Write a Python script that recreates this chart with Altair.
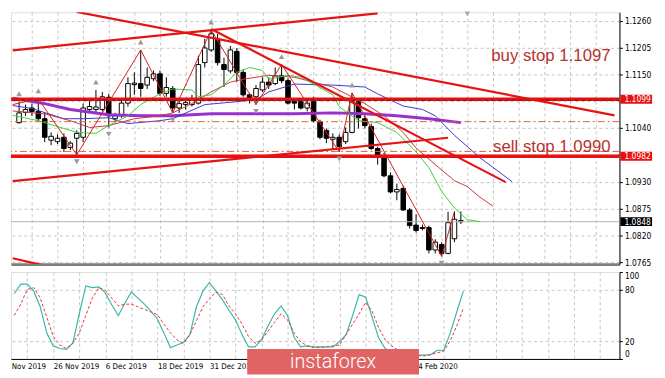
import altair as alt
import pandas as pd

# ---------------- data ----------------
bar_idx = list(range(1, 71))
opens = [1.1051, 1.1072, 1.1081, 1.1074, 1.1059, 1.1015, 1.1012, 1.1021, 1.1000, 1.1019,
         1.1021, 1.1078, 1.1078, 1.1078, 1.1103, 1.1059, 1.1065, 1.1091, 1.1129, 1.1131,
         1.1128, 1.1141, 1.1151, 1.1111, 1.1121, 1.1081, 1.1088, 1.1088, 1.1091, 1.1174,
         1.1200, 1.1223, 1.1170, 1.1157, 1.1197, 1.1154, 1.1108, 1.1104, 1.1118, 1.1134,
         1.1131, 1.1147, 1.1137, 1.1094, 1.1094, 1.1081, 1.1094, 1.1053, 1.1035, 1.1017,
         1.1021, 1.1012, 1.1031, 1.1094, 1.1059, 1.1043, 1.0998, 1.0982, 1.0942, 1.0909,
         1.0916, 1.0872, 1.0841, 1.0836, 1.0836, 1.0790, 1.0801, 1.0783, 1.0813, 1.0850]
highs = [1.1094, 1.1088, 1.1090, 1.1100, 1.1071, 1.1031, 1.1027, 1.1029, 1.1013, 1.1035,
         1.1090, 1.1100, 1.1118, 1.1114, 1.1110, 1.1071, 1.1096, 1.1144, 1.1154, 1.1200,
         1.1164, 1.1158, 1.1158, 1.1144, 1.1126, 1.1098, 1.1100, 1.1108, 1.1188, 1.1223,
         1.1241, 1.1233, 1.1184, 1.1208, 1.1204, 1.1160, 1.1112, 1.1128, 1.1144, 1.1144,
         1.1164, 1.1170, 1.1142, 1.1100, 1.1100, 1.1100, 1.1104, 1.1057, 1.1039, 1.1029,
         1.1027, 1.1041, 1.1112, 1.1101, 1.1065, 1.1049, 1.1002, 1.0989, 1.0949, 1.0926,
         1.0922, 1.0876, 1.0863, 1.0842, 1.0840, 1.0812, 1.0806, 1.0868, 1.0869, 1.0869]
lows = [1.1049, 1.1065, 1.1065, 1.1053, 1.1011, 1.1005, 1.1007, 1.0991, 1.0995, 1.0985,
        1.1011, 1.1074, 1.1071, 1.1074, 1.1041, 1.1053, 1.1061, 1.1084, 1.1108, 1.1104,
        1.1120, 1.1136, 1.1106, 1.1104, 1.1071, 1.1071, 1.1078, 1.1084, 1.1088, 1.1164,
        1.1196, 1.1168, 1.1124, 1.1152, 1.1134, 1.1104, 1.1090, 1.1088, 1.1114, 1.1120,
        1.1128, 1.1132, 1.1088, 1.1078, 1.1078, 1.1074, 1.1051, 1.1017, 1.1009, 1.0995,
        1.0991, 1.1007, 1.1029, 1.1039, 1.1039, 1.0995, 1.0965, 1.0939, 1.0906, 1.0892,
        1.0870, 1.0834, 1.0826, 1.0830, 1.0783, 1.0783, 1.0777, 1.0781, 1.0806, 1.0843]
closes = [1.1071, 1.1078, 1.1074, 1.1059, 1.1021, 1.1023, 1.1019, 1.0998, 1.1009, 1.1029,
          1.1081, 1.1084, 1.1083, 1.1104, 1.1065, 1.1065, 1.1091, 1.1131, 1.1132, 1.1121,
          1.1144, 1.1151, 1.1111, 1.1123, 1.1081, 1.1090, 1.1092, 1.1099, 1.1170, 1.1204,
          1.1233, 1.1174, 1.1160, 1.1200, 1.1154, 1.1108, 1.1098, 1.1121, 1.1134, 1.1128,
          1.1147, 1.1137, 1.1091, 1.1091, 1.1081, 1.1091, 1.1055, 1.1021, 1.1019, 1.1021,
          1.1002, 1.1031, 1.1094, 1.1061, 1.1045, 1.0998, 1.0982, 1.0942, 1.0909, 1.0914,
          1.0872, 1.0840, 1.0830, 1.0834, 1.0790, 1.0806, 1.0783, 1.0846, 1.0853, 1.0848]

jaw_idx = [0, 3, 8, 11, 15, 18, 23, 25, 30, 35, 38, 40, 44, 50, 55, 57, 61, 64, 66, 69, 73, 78]
jaw_val = [1.1086, 1.1080, 1.1059, 1.1059, 1.1061, 1.1049, 1.1055, 1.1059, 1.1088, 1.1094,
           1.1098, 1.1114, 1.1130, 1.1128, 1.1124, 1.1110, 1.1085, 1.1078, 1.1065, 1.1025,
           1.0979, 1.0930]
teeth_idx = [0, 5, 9, 12, 15, 19, 23, 25, 28, 31, 34, 36, 40, 44, 47, 50, 55, 58, 61, 63,
             66, 69, 71, 73, 75]
teeth_val = [1.1075, 1.1069, 1.1055, 1.1041, 1.1045, 1.1059, 1.1065, 1.1071, 1.1090, 1.1114,
             1.1134, 1.1140, 1.1148, 1.1144, 1.1134, 1.1124, 1.1090, 1.1065, 1.1031, 1.0999,
             1.0965, 1.0932, 1.0920, 1.0898, 1.0880]
lips_idx = [0, 4, 8, 10, 13, 15, 18, 20, 23, 25, 28, 29, 31, 33, 35, 37, 39, 40, 43, 45,
            47, 50, 51, 54, 57, 60, 63, 65, 67, 69, 71, 73]
lips_val = [1.1066, 1.1055, 1.1039, 1.1031, 1.1029, 1.1045, 1.1065, 1.1088, 1.1110, 1.1120,
            1.1118, 1.1104, 1.1108, 1.1128, 1.1154, 1.1164, 1.1158, 1.1140, 1.1148, 1.1144,
            1.1130, 1.1108, 1.1084, 1.1055, 1.1051, 1.1031, 1.0991, 1.0959, 1.0910, 1.0876,
            1.0852, 1.0848]
slow_idx = [0, 5, 9, 15, 20, 25, 31, 38, 44, 50, 55, 60, 65, 70]
slow_val = [1.1101, 1.1090, 1.1078, 1.1067, 1.1065, 1.1065, 1.1069, 1.1069, 1.1069, 1.1071,
            1.1069, 1.1065, 1.1059, 1.1051]
zz_idx = [0, 4, 10, 20, 25, 31, 38, 42, 51, 53, 67, 69]
zz_val = [1.1088, 1.1100, 1.0985, 1.1200, 1.1071, 1.1241, 1.1088, 1.1170, 1.0991, 1.1112,
          1.0777, 1.0869]
frac_up_idx = [1, 4, 13, 20, 31, 42, 53]
frac_dn_idx = [10, 15, 25, 38, 51, 67]
shift_idx = [71]
shift_val = [1.1274]

trend_i0 = [0, 10, 31, 0, 0]
trend_p0 = [1.1199, 1.1278, 1.1243, 1.0931, 1.0773]
trend_i1 = [57, 94, 77, 68, 5]
trend_p1 = [1.1275, 1.1066, 1.0929, 1.1020, 1.0758]

level_solid = [1.1099, 1.0982]
level_order = [1.1097]
level_dashed = [1.1053, 1.0992]
last_price = [1.0848]

note_text = ["buy stop 1.1097", "sell stop 1.0990"]
note_idx = [93.4, 93.4]
note_val = [1.1178, 1.0991]

tag_red = [1.1099, 1.0982]
tag_black = [1.0848]

price_ticks = [1.0765, 1.0820, 1.0875, 1.0930, 1.0985, 1.1040, 1.1095, 1.1150, 1.1205, 1.1260]
price_hidden = [1.0985, 1.1095]

stoch_k = [75, 86, 86, 78, 60, 30, 15, 12, 11, 18,
           52, 84, 82, 83, 76, 62, 50, 64, 77, 70,
           63, 55, 46, 30, 13, 16, 19, 28, 60, 78,
           88, 78, 68, 56, 45, 28, 14, 14, 22, 38,
           52, 61, 50, 25, 14, 15, 14, 14, 14, 14,
           20, 28, 50, 74, 71, 48, 24, 12, 8, 6,
           5, 5, 4.5, 4.5, 5, 10, 10, 30, 54, 78]
stoch_d = [50, 63, 80, 82, 70, 48, 26, 16, 12, 18,
           30, 50, 70, 82, 79, 70, 61, 63, 63, 60,
           57, 54, 51, 40, 30, 22, 18, 28, 44, 60,
           69, 77, 74, 61, 52, 40, 26, 18, 22, 32,
           42, 52, 45, 30, 20, 15, 13, 13, 14, 15,
           16, 28, 40, 52, 65, 55, 36, 22, 15, 10,
           7, 5, 4, 3.5, 5, 7, 9, 21, 38, 58]
stoch_ticks = [0, 20, 80, 100]

date_idx = [0.55, 7, 15, 23, 31, 63]
date_text = ["Nov 2019", "26 Nov 2019", "6 Dec 2019", "18 Dec 2019", "31 Dec 2019",
             "4 Feb 2020"]
grid_idx = list(range(3, 92, 4))

banner_text = ["instaforex"]
banner_i = [36.8]
banner_i2 = [63.2]
banner_v = [-18]
banner_v2 = [11.5]
banner_text_i = [50]
banner_text_v = [-4]

# ---------------- layout ----------------
W = 616
H1 = 255
H2 = 88
FONT = "DejaVu Sans Condensed, DejaVu Sans, sans-serif"

xs = alt.Scale(domain=[0.5, 94], nice=False, zero=False)
ys = alt.Scale(domain=[1.0761, 1.12773], nice=False, zero=False)
ss = alt.Scale(domain=[0, 100], nice=False, zero=False)

ax_main_x = alt.Axis(values=grid_idx, labels=False, ticks=False, grid=True,
                     gridColor="#c4c4c4", gridDash=[3, 3], domainColor="#7f7f7f",
                     domainWidth=3, title=None)

hide_test = " || ".join(f"abs(datum.value - {v}) < 0.00001" for v in price_hidden)
ax_price = alt.Axis(orient="right", values=price_ticks,
                    labelExpr=f"({hide_test}) ? '' : format(datum.value, '.4f')",
                    tickSize=3, tickColor="#000", domainColor="#000", labelFontSize=8.5,
                    labelPadding=2, labelFont=FONT, labelColor="#000", grid=True,
                    gridColor="#c4c4c4", gridDash=[3, 3], labelOverlap=False, title=None)

expr = "''"
for k, t in reversed(list(zip(date_idx, date_text))):
    if k < 1:
        expr = f"(datum.value < 1 ? '{t}' : {expr})"
    else:
        expr = f"(datum.value == {k} ? '{t}' : {expr})"
ax_date = alt.Axis(values=sorted(set(grid_idx + date_idx)), labelExpr=expr, ticks=False,
                   grid=True, gridColor="#c4c4c4", gridDash=[3, 3],
                   gridOpacity={"condition": {"test": "datum.value < 1", "value": 0}, "value": 1},
                   domainColor="#000", labelFont=FONT, labelFontSize=8, labelColor="#000",
                   labelAlign="left", labelPadding=4, labelOverlap=False, labelBound=False,
                   labelFlush=False, title=None)
ax_stoch = alt.Axis(orient="right", values=stoch_ticks, tickSize=3, tickColor="#000",
                    domainColor="#000", labelFontSize=8.5, labelPadding=2, labelFont=FONT,
                    labelColor="#000", labelFlush=True, grid=True, gridColor="#c4c4c4",
                    gridDash=[3, 3],
                    gridOpacity={"condition": {"test": "datum.value == 0 || datum.value == 100",
                                               "value": 0}, "value": 1},
                    labelOverlap=False, title=None)


def X(f):
    return alt.X(f"{f}:Q", scale=xs, axis=ax_main_x, title=None)


def Y(f):
    return alt.Y(f"{f}:Q", scale=ys, axis=ax_price, title=None)


candles = pd.DataFrame({"i": bar_idx, "o": opens, "h": highs, "l": lows, "c": closes})


def series(ix, vals):
    return pd.DataFrame({"i": ix, "p": vals})


wicks = alt.Chart(candles).mark_rule(color="#000", strokeWidth=1).encode(
    x=X("i"), y=Y("l"), y2="h")
bodies = alt.Chart(candles).mark_bar(width=4.6, stroke="#000", strokeWidth=1).encode(
    x=X("i"), y=Y("o"), y2="c",
    fill=alt.condition("datum.c > datum.o", alt.value("#ffffff"), alt.value("#000000")))

last_line = alt.Chart(series([0], last_price)).mark_rule(color="#b4b4b4", strokeWidth=1).encode(
    y=Y("p"))

slow = alt.Chart(series(slow_idx, slow_val)).mark_line(
    color="#9a2fd0", strokeWidth=3, clip=True).encode(x=X("i"), y=Y("p"))
jaw = alt.Chart(series(jaw_idx, jaw_val)).mark_line(
    color="#3a3acc", strokeWidth=1, clip=True).encode(x=X("i"), y=Y("p"))
teeth = alt.Chart(series(teeth_idx, teeth_val)).mark_line(
    color="#c83a3a", strokeWidth=1, clip=True).encode(x=X("i"), y=Y("p"))
lips = alt.Chart(series(lips_idx, lips_val)).mark_line(
    color="#3ccf3c", strokeWidth=1, clip=True).encode(x=X("i"), y=Y("p"))
zigzag = alt.Chart(series(zz_idx, zz_val)).mark_line(
    color="#d42020", strokeWidth=1, clip=True).encode(x=X("i"), y=Y("p"))

hi_map = dict(zip(bar_idx, highs))
lo_map = dict(zip(bar_idx, lows))
frac_up = alt.Chart(series(frac_up_idx, [hi_map[k] for k in frac_up_idx])).mark_point(
    shape="triangle-up", filled=True, color="#9a9a9a", size=32, yOffset=-8, opacity=1).encode(
    x=X("i"), y=Y("p"))
frac_dn = alt.Chart(series(frac_dn_idx, [lo_map[k] for k in frac_dn_idx])).mark_point(
    shape="triangle-down", filled=True, color="#9a9a9a", size=32, yOffset=7, opacity=1).encode(
    x=X("i"), y=Y("p"))
shift = alt.Chart(series(shift_idx, shift_val)).mark_point(
    shape="triangle-down", filled=True, color="#a8a8a8", size=30, opacity=1).encode(
    x=X("i"), y=Y("p"))

lev_dash = alt.Chart(series([0, 0], level_dashed)).mark_rule(
    color="#e0603a", strokeWidth=1, strokeDash=[7, 3, 2, 3]).encode(y=Y("p"))
lev_solid = alt.Chart(series([0, 0], level_solid)).mark_rule(
    color="#e81010", strokeWidth=3.5).encode(y=Y("p"))
lev_order = alt.Chart(series([0], level_order)).mark_rule(
    color="#8a1010", strokeWidth=1, strokeDash=[4, 3]).encode(y=Y("p"))

trends = alt.Chart(pd.DataFrame({"i": trend_i0, "p": trend_p0, "i2": trend_i1,
                                 "p2": trend_p1})).mark_rule(
    color="#e41414", strokeWidth=2.2, clip=True).encode(x=X("i"), x2="i2", y=Y("p"), y2="p2")

notes = alt.Chart(pd.DataFrame({"i": note_idx, "p": note_val, "t": note_text})).mark_text(
    align="right", baseline="alphabetic", font="Liberation Sans, Arial, sans-serif",
    fontSize=17, color="#b5322d").encode(x=X("i"), y=Y("p"), text="t:N")

tag_df_r = pd.DataFrame({"p": tag_red, "t": [f"{v:.4f}" for v in tag_red]})
tag_df_b = pd.DataFrame({"p": tag_black, "t": [f"{v:.4f}" for v in tag_black]})
tag_box_r = alt.Chart(tag_df_r).mark_rule(color="#e81010", strokeWidth=9, strokeCap="butt").encode(
    x=alt.value(W + 1), x2=alt.value(W + 33), y=Y("p"))
tag_box_b = alt.Chart(tag_df_b).mark_rule(color="#000000", strokeWidth=9, strokeCap="butt").encode(
    x=alt.value(W + 1), x2=alt.value(W + 33), y=Y("p"))
tag_txt = alt.Chart(pd.concat([tag_df_r, tag_df_b])).mark_text(
    align="left", baseline="middle", font=FONT, fontSize=8.5, color="#ffffff").encode(
    x=alt.value(W + 5), y=Y("p"), text="t:N")

main = alt.layer(
    wicks, bodies, last_line, slow, jaw, teeth, lips, lev_dash, lev_solid, lev_order,
    trends, zigzag, frac_up, frac_dn, shift, notes, tag_box_r, tag_box_b, tag_txt
).properties(width=W, height=H1)

# ---------------- stochastic panel ----------------
def XL(f):
    return alt.X(f"{f}:Q", scale=xs, axis=ax_date, title=None)


def YS(f):
    return alt.Y(f"{f}:Q", scale=ss, axis=ax_stoch, title=None)


stoch = pd.DataFrame({"i": bar_idx, "k": stoch_k, "d": stoch_d})
k_line = alt.Chart(stoch).mark_line(color="#3db7a9", strokeWidth=1.2).encode(
    x=XL("i"), y=YS("k"))
d_line = alt.Chart(stoch).mark_line(color="#e03a3a", strokeWidth=1, strokeDash=[3, 2]).encode(
    x=XL("i"), y=YS("d"))
banner = alt.Chart(pd.DataFrame({"i": banner_i, "i2": banner_i2, "v": banner_v,
                                 "v2": banner_v2})).mark_rect(color="#e06464").encode(
    x=XL("i"), x2="i2", y=YS("v"), y2="v2")
banner_t = alt.Chart(pd.DataFrame({"i": banner_text_i, "v": banner_text_v,
                                   "t": banner_text})).mark_text(
    font="Roboto, Open Sans, sans-serif", fontSize=20, fontWeight=300, color="#ffffff",
    align="center", baseline="middle").encode(x=XL("i"), y=YS("v"), text="t:N")

lower = alt.layer(k_line, d_line, banner, banner_t).properties(width=W, height=H2)

chart = alt.vconcat(main, lower, spacing=3).properties(
    padding={"left": 0, "top": 0, "right": 0, "bottom": 0}
).configure_view(stroke=None).configure(background="#ffffff")

chart.save("out.html", embed_options={"renderer": "svg", "actions": False})
